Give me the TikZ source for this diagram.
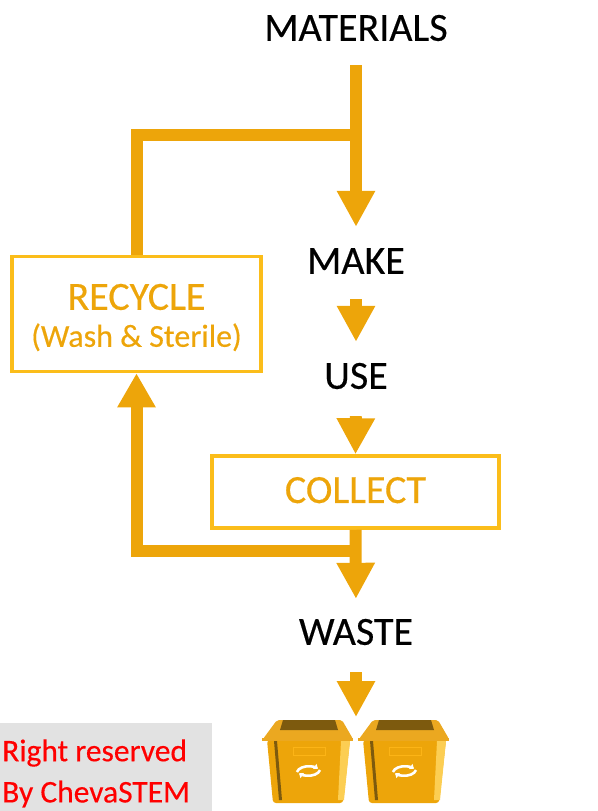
\documentclass[tikz,border=0pt]{standalone}
\usepackage{fontspec}
\setmainfont[FakeBold=0.35]{Carlito}
\usetikzlibrary{arrows.meta}
\definecolor{flowc}{HTML}{EDA50A}
\definecolor{boxc}{HTML}{FBBD1A}
\definecolor{lidc}{HTML}{EBA820}
\definecolor{darkc}{HTML}{7D5A0E}
\definecolor{graybg}{HTML}{E2E2E2}
\tikzset{
  lab/.style={font=\fontsize{40}{44}\selectfont, text=black, minimum height=40pt, minimum width=60pt, inner sep=0pt},
  flow/.style={draw=flowc, line width=12pt, -{Triangle[length=36pt,width=36pt]}},
  flowline/.style={draw=flowc, line width=12pt},
  boxn/.style={draw=boxc, line width=3.5pt, inner sep=0pt, text=flowc, align=center},
  note/.style={font=\fontsize{31.5}{41}\selectfont, text=red, anchor=west, inner sep=0pt},
  pics/bin/.style={code={
    \fill[lidc, rounded corners=2pt] (11,21) -- (76,21) -- (87,40) -- (-3,40) -- cycle;
    \fill[darkc] (17,21) -- (69,21) -- (72,31) -- (14,31) -- cycle;
    \fill[flowc, rounded corners=3pt] (1,41) -- (84,41) -- (77,104) -- (7,104) -- cycle;
    \fill[lidc] (-4,38.5) rectangle (87,41.5);
    \fill[boxc!75!white] (75,42) -- (84,42) -- (78,101) -- (72,101) -- cycle;
    \fill[darkc] (8,42) -- (11,42) -- (16,101) -- (13,101) -- cycle;
    \draw[boxc!85!orange, line width=1pt] (27,48) rectangle (59,56);
    \draw[white, line width=2.6pt, -{Triangle[length=4pt,width=6pt]}] (31,73) arc[start angle=170, end angle=40, x radius=12, y radius=-7];
    \draw[white, line width=2.6pt, -{Triangle[length=4pt,width=6pt]}] (54,71) arc[start angle=-10, end angle=-140, x radius=12, y radius=-7];
  }}
}
\begin{document}
\begin{tikzpicture}[x=1pt,y=-1pt]
\useasboundingbox (0,0) rectangle (597,811);
\fill[graybg] (0,723) rectangle (212,811);
\node[lab] (materials) at (356,28) {MATERIALS};
\node[lab] (make) at (356,261) {MAKE};
\node[lab] (use) at (356,376) {USE};
\node[lab] (waste) at (356,632) {WASTE};
\node[boxn, minimum width=249pt, minimum height=115pt, font=\fontsize{40}{38}\selectfont] (recycle) at (136.5,314) {\rule{0pt}{33pt}RECYCLE\\[-1pt]{\fontsize{32}{34}\selectfont(Wash \& Sterile)}};
\node[boxn, minimum width=287pt, minimum height=72pt, font=\fontsize{40}{44}\selectfont] (collect) at (355.5,492) {\rule[-4pt]{0pt}{1pt}COLLECT};
\coordinate (topj) at (356,135);
\coordinate (lowj) at (356,551);
\coordinate (bins) at (356,717);
\draw[flow, shorten <=17pt, shorten >=14pt] (materials.south) -- (make.north);
\draw[flowline, line join=miter] (topj) -| (recycle.north);
\draw[flow, shorten <=18pt, shorten >=14pt] (make.south) -- (use.north);
\draw[flow, shorten <=20pt] (use.south) -- (collect.north);
\draw[flow, shorten >=13pt] (collect.south) -- (waste.north);
\draw[flow, line join=miter, -{Triangle[length=34pt,width=36pt]}] (lowj) -| (recycle.south);
\draw[flow, shorten <=20pt] (waste.south) -- (bins);
\pic at (266,699) {bin};
\pic at (362,699) {bin};
\node[note] (n1) at (2,753) {Right reserved};
\node[note] (n2) at (2,794) {By ChevaSTEM};
\end{tikzpicture}
\end{document}
